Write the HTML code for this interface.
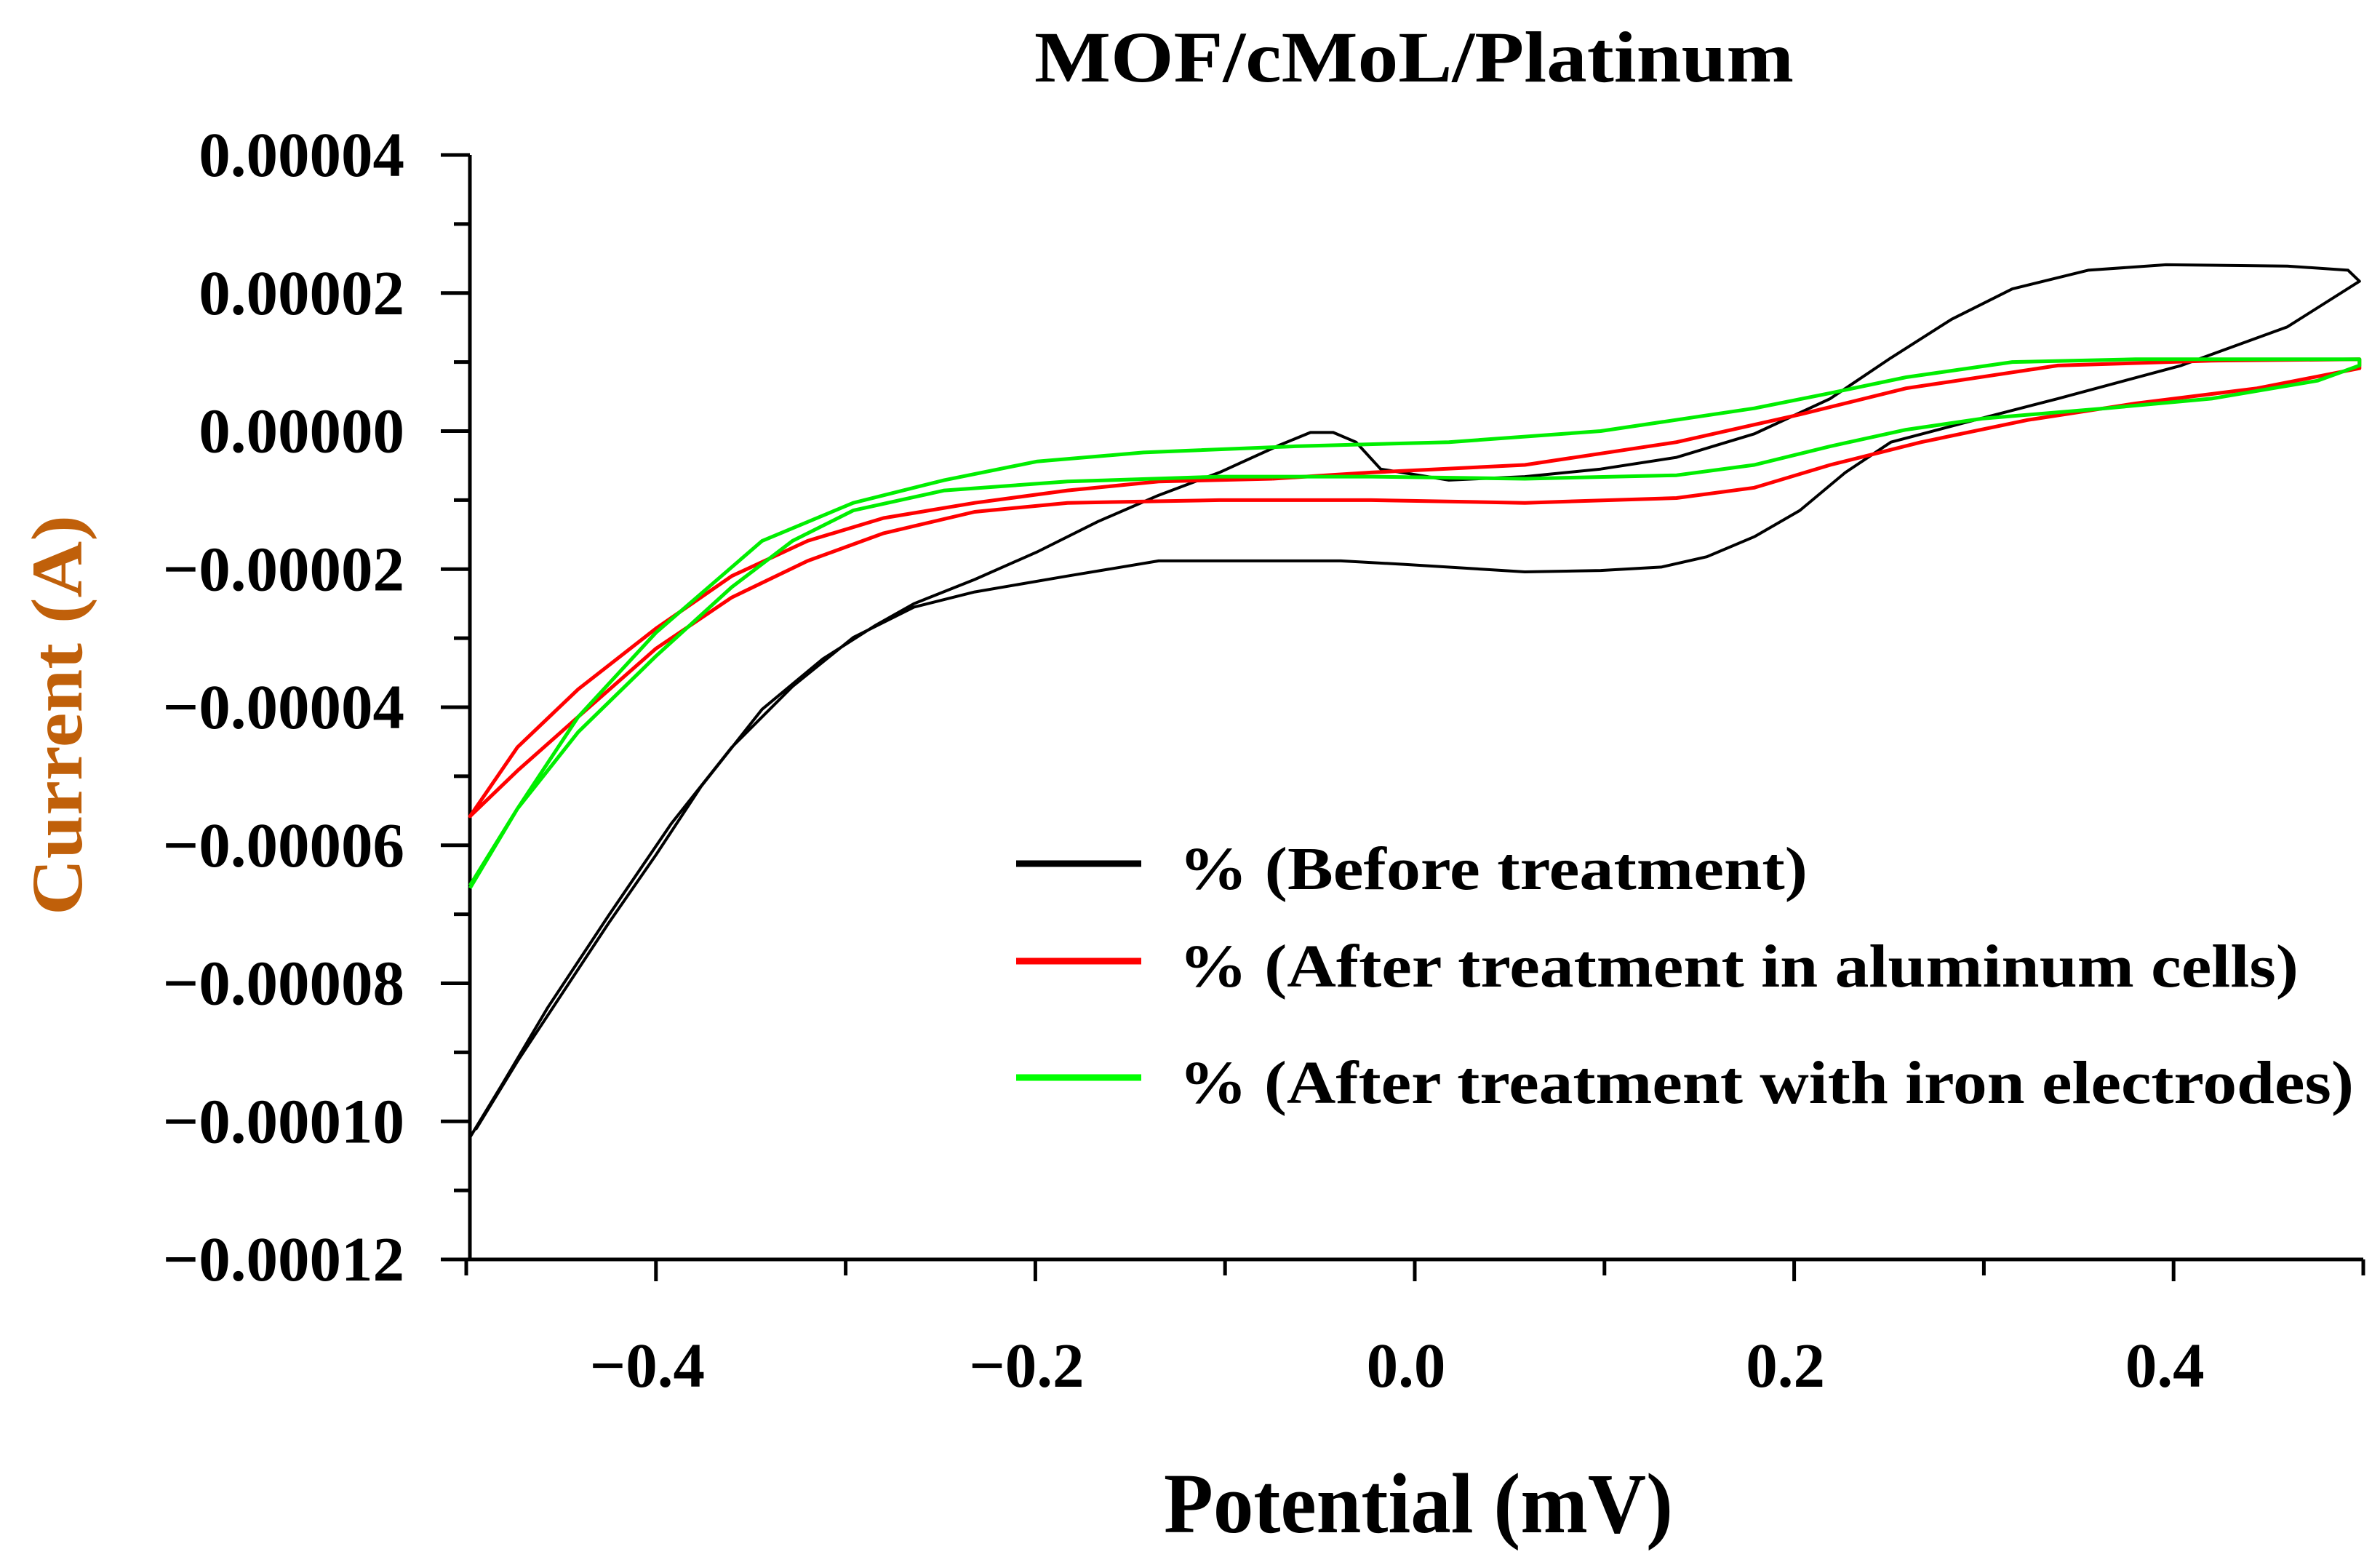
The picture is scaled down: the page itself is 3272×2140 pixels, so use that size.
<!DOCTYPE html>
<html><head><meta charset="utf-8"><style>
html,body{margin:0;padding:0;background:#fff;}
svg{display:block;}
text{font-family:"Liberation Serif",serif;font-weight:bold;}
</style></head><body>
<svg id="chart" width="3272" height="2140" viewBox="0 0 3272 2140" xmlns="http://www.w3.org/2000/svg">
<rect x="0" y="0" width="3272" height="2140" fill="#fff"/>
<text x="1944" y="112" text-anchor="middle" font-size="100" textLength="1044" lengthAdjust="spacingAndGlyphs">MOF/cMoL/Platinum</text>
<g id="axes"></g>
<g id="series"></g>
<text x="1950" y="2106" text-anchor="middle" font-size="118" textLength="700" lengthAdjust="spacingAndGlyphs">Potential (mV)</text>
<text transform="translate(112,983) rotate(-90)" text-anchor="middle" font-size="100" fill="#c0600a" textLength="550" lengthAdjust="spacingAndGlyphs">Current (A)</text>
<g>
<line x1="1397" y1="1187" x2="1569" y2="1187" stroke="#000" stroke-width="9"/>
<text x="1621" y="1222" font-size="84" textLength="864" lengthAdjust="spacingAndGlyphs">% (Before treatment)</text>
<line x1="1397" y1="1321" x2="1569" y2="1321" stroke="#ff0000" stroke-width="9"/>
<text x="1621" y="1356" font-size="84" textLength="1539" lengthAdjust="spacingAndGlyphs">% (After treatment in aluminum cells)</text>
<line x1="1397" y1="1481" x2="1569" y2="1481" stroke="#00ff00" stroke-width="9"/>
<text x="1621" y="1516" font-size="84" textLength="1615" lengthAdjust="spacingAndGlyphs">% (After treatment with iron electrodes)</text>
</g>
</svg>
<script>
const xTicks = [-0.4, -0.2, 0.0, 0.2, 0.4];
const xTickLabels = ["\u22120.4", "\u22120.2", "0.0", "0.2", "0.4"];
const xMinorTicks = [-0.5, -0.3, -0.1, 0.1, 0.3, 0.5];
const yTicks = [4, 2, 0, -2, -4, -6, -8, -10, -12];
const yTickLabels = ["0.00004", "0.00002", "0.00000", "\u22120.00002", "\u22120.00004", "\u22120.00006", "\u22120.00008", "\u22120.00010", "\u22120.00012"];
const yMinorTicks = [3, 1, -1, -3, -5, -7, -9, -11];

const beforeX = [-0.498,-0.481,-0.457,-0.425,-0.392,-0.360,-0.328,-0.296,-0.264,-0.232,-0.183,-0.135,-0.039,-0.006,0.058,0.098,0.130,0.154,0.179,0.203,0.227,0.251,0.291,0.339,0.404,0.460,0.498,0.492,0.460,0.396,0.355,0.315,0.283,0.251,0.219,0.179,0.138,0.098,0.058,0.018,-0.018,-0.031,-0.043,-0.055,-0.071,-0.103,-0.135,-0.167,-0.199,-0.232,-0.264,-0.284,-0.312,-0.344,-0.376,-0.400,-0.425,-0.449,-0.473,-0.495];
const beforeY = [-10.23,-9.46,-8.35,-7.02,-5.69,-4.58,-3.70,-2.99,-2.55,-2.33,-2.10,-1.88,-1.88,-1.93,-2.04,-2.02,-1.97,-1.82,-1.53,-1.15,-0.60,-0.16,0.13,0.47,0.95,1.51,2.17,2.33,2.39,2.41,2.33,2.06,1.62,1.06,0.47,-0.04,-0.38,-0.55,-0.66,-0.71,-0.55,-0.16,-0.02,-0.02,-0.20,-0.60,-0.93,-1.31,-1.75,-2.15,-2.50,-2.81,-3.30,-4.03,-5.14,-6.14,-7.13,-8.13,-9.13,-10.12];

const aluminumX = [-0.075,-0.023,0.058,0.138,0.203,0.259,0.339,0.420,0.498,0.498,0.444,0.380,0.323,0.267,0.219,0.179,0.138,0.058,-0.023,-0.103,-0.183,-0.232,-0.280,-0.320,-0.360,-0.400,-0.441,-0.473,-0.498,-0.473,-0.441,-0.400,-0.360,-0.320,-0.280,-0.232,-0.183,-0.135,-0.075];
const aluminumY = [-0.69,-0.60,-0.49,-0.16,0.24,0.62,0.95,1.02,1.04,0.91,0.62,0.40,0.16,-0.16,-0.49,-0.82,-0.97,-1.04,-1.00,-1.00,-1.04,-1.17,-1.48,-1.88,-2.41,-3.15,-4.14,-4.92,-5.58,-4.58,-3.74,-2.86,-2.10,-1.59,-1.26,-1.04,-0.86,-0.73,-0.69];

const ironX = [-0.498,-0.473,-0.441,-0.400,-0.344,-0.296,-0.248,-0.199,-0.143,-0.063,0.018,0.098,0.179,0.219,0.259,0.315,0.380,0.498,0.498,0.476,0.420,0.364,0.299,0.259,0.219,0.179,0.138,0.058,-0.023,-0.103,-0.183,-0.248,-0.296,-0.328,-0.360,-0.400,-0.441,-0.473,-0.498];
const ironY = [-6.62,-5.47,-4.14,-2.92,-1.59,-1.04,-0.71,-0.44,-0.31,-0.22,-0.16,0.0,0.33,0.55,0.78,1.00,1.04,1.04,0.95,0.73,0.47,0.33,0.18,0.02,-0.22,-0.49,-0.64,-0.69,-0.66,-0.66,-0.73,-0.86,-1.15,-1.59,-2.26,-3.26,-4.36,-5.47,-6.58];

const NS = "http://www.w3.org/2000/svg";
const X0 = 641, X1 = 3249, Y0 = 1731, Y1 = 213;
function xScale(v){ return X0 + (v + 0.5) / 1.0 * (X1 - X0); }
function yScale(v){ return Y0 - (v + 12) / 16 * (Y0 - Y1); }

const axes = document.getElementById("axes");
function mk(tag, attrs, parent){
  const e = document.createElementNS(NS, tag);
  for (const k in attrs) e.setAttribute(k, attrs[k]);
  parent.appendChild(e);
  return e;
}
let el = mk("line", {x1:646, y1:Y1, x2:646, y2:Y0+2, stroke:"#000", "stroke-width":5}, axes);


el = mk("line", {x1:644, y1:Y0, x2:X1, y2:Y0, stroke:"#000", "stroke-width":5}, axes);



yTicks.forEach((v, i) => {
  const y = yScale(v);
  const t = mk("line", {x1:606, y1:y, x2:646, y2:y, stroke:"#000", "stroke-width":5}, axes);
  
  
  const lab = mk("text", {x:556, y:y+29, "text-anchor":"end", "font-size":87}, axes);
  lab.textContent = yTickLabels[i];
  
  
});
yMinorTicks.forEach(v => {
  const y = yScale(v);
  const t = mk("line", {x1:624, y1:y, x2:646, y2:y, stroke:"#000", "stroke-width":5}, axes);
  
  
});
xTicks.forEach((v, i) => {
  const x = xScale(v);
  const t = mk("line", {x1:x, y1:Y0, x2:x, y2:Y0+30, stroke:"#000", "stroke-width":5}, axes);
  
  
  const lab = mk("text", {x:x-12, y:1906, "text-anchor":"middle", "font-size":87}, axes);
  lab.textContent = xTickLabels[i];
  
  
});
xMinorTicks.forEach(v => {
  const x = xScale(v);
  const t = mk("line", {x1:x, y1:Y0, x2:x, y2:Y0+22, stroke:"#000", "stroke-width":5}, axes);
  
  
});

const series = document.getElementById("series");
function drawSeries(xs, ys, color, w, name){
  const pts = xs.map((x, i) => xScale(x).toFixed(1) + "," + yScale(ys[i]).toFixed(1)).join(" ");
  const p = mk("polyline", {points:pts, fill:"none", stroke:color, "stroke-width":w, "stroke-linejoin":"round"}, series);
  
  
}
drawSeries(beforeX, beforeY, "#000", 4, "before-treatment-curve");
drawSeries(aluminumX, aluminumY, "#ff0000", 5, "aluminum-treatment-curve");
drawSeries(ironX, ironY, "#00ee00", 5, "iron-treatment-curve");
</script>
</body></html>
